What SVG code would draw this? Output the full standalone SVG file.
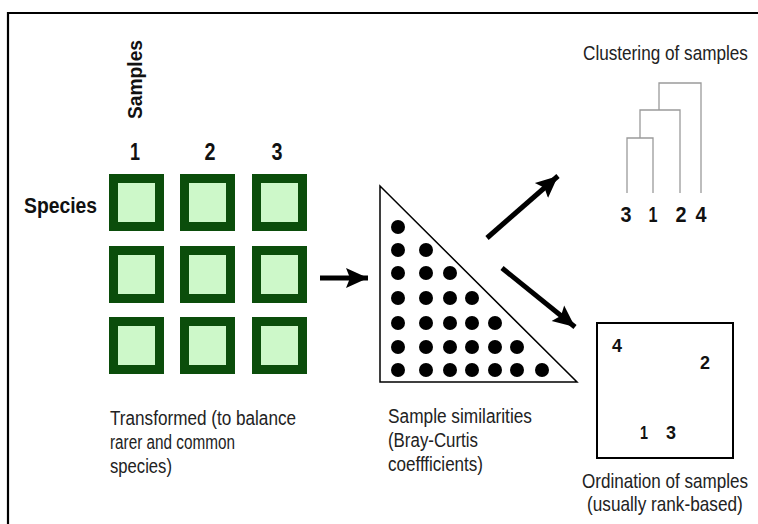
<svg xmlns="http://www.w3.org/2000/svg" width="758" height="524" viewBox="0 0 758 524">
<defs>
<style>
.b{font-family:"Liberation Sans",Arial,sans-serif;font-weight:bold;fill:#111;}
.r{font-family:"Liberation Sans",Arial,sans-serif;fill:#222;font-size:20px;}
.sq{fill:#cdf8c9;stroke:#0b4d0b;stroke-width:9;}
.den{fill:none;stroke:#9a9a9a;stroke-width:1.3;}
.arr{stroke:#000;stroke-width:5;fill:none;}
</style>
<marker id="ah" markerUnits="userSpaceOnUse" markerWidth="24" markerHeight="24" viewBox="0 0 24 24" refX="22" refY="12" orient="auto">
<path d="M0,2 L22,12 L0,22 L4,12 Z" fill="#000"/>
</marker>
</defs>
<rect width="758" height="524" fill="#fff"/>
<path d="M8,524 V13 H758" fill="none" stroke="#000" stroke-width="2.2"/>

<g id="samples-label">
<text class="b" font-size="20" transform="translate(142,119) rotate(-90)" textLength="79" lengthAdjust="spacingAndGlyphs">Samples</text>
</g>
<g id="sample-numbers">
<text class="b" font-size="23" x="135" y="160" text-anchor="middle" textLength="10" lengthAdjust="spacingAndGlyphs">1</text>
<text class="b" font-size="23" x="210" y="160" text-anchor="middle" textLength="11" lengthAdjust="spacingAndGlyphs">2</text>
<text class="b" font-size="23" x="277" y="160" text-anchor="middle" textLength="11" lengthAdjust="spacingAndGlyphs">3</text>
</g>
<g id="species-label">
<text class="b" font-size="22" x="24" y="213" textLength="73" lengthAdjust="spacingAndGlyphs">Species</text>
</g>

<g id="matrix">
<rect class="sq" x="113.5" y="178.5" width="46" height="48"/>
<rect class="sq" x="184.5" y="178.5" width="46" height="48"/>
<rect class="sq" x="256.5" y="178.5" width="46" height="48"/>
<rect class="sq" x="113.5" y="250.5" width="46" height="48"/>
<rect class="sq" x="184.5" y="250.5" width="46" height="48"/>
<rect class="sq" x="256.5" y="250.5" width="46" height="48"/>
<rect class="sq" x="113.5" y="321.5" width="46" height="48"/>
<rect class="sq" x="184.5" y="321.5" width="46" height="48"/>
<rect class="sq" x="256.5" y="321.5" width="46" height="48"/>
</g>
<g id="matrix-caption">
<text class="r" x="110" y="425" textLength="186" lengthAdjust="spacingAndGlyphs">Transformed (to balance</text>
<text class="r" x="110" y="449" textLength="125" lengthAdjust="spacingAndGlyphs">rarer and common</text>
<text class="r" x="110" y="473" textLength="62" lengthAdjust="spacingAndGlyphs">species)</text>
</g>

<g id="similarity-triangle">
<path d="M380,186 L380,382 L577,382 Z" fill="#fff" stroke="#000" stroke-width="1.5"/>
<g fill="#000">
<circle cx="398" cy="227" r="7"/>
<circle cx="398" cy="250" r="7"/><circle cx="426" cy="250" r="7"/>
<circle cx="398" cy="273" r="7"/><circle cx="426" cy="273" r="7"/><circle cx="450" cy="273" r="7"/>
<circle cx="398" cy="298" r="7"/><circle cx="426" cy="298" r="7"/><circle cx="450" cy="298" r="7"/><circle cx="472" cy="298" r="7"/>
<circle cx="398" cy="323" r="7"/><circle cx="426" cy="323" r="7"/><circle cx="450" cy="323" r="7"/><circle cx="472" cy="323" r="7"/><circle cx="495" cy="323" r="7"/>
<circle cx="398" cy="347" r="7"/><circle cx="426" cy="347" r="7"/><circle cx="450" cy="347" r="7"/><circle cx="472" cy="347" r="7"/><circle cx="495" cy="347" r="7"/><circle cx="517" cy="347" r="7"/>
<circle cx="398" cy="370" r="7"/><circle cx="426" cy="370" r="7"/><circle cx="450" cy="370" r="7"/><circle cx="472" cy="370" r="7"/><circle cx="495" cy="370" r="7"/><circle cx="517" cy="370" r="7"/><circle cx="542" cy="370" r="7"/>
</g>
</g>
<g id="triangle-caption">
<text class="r" x="388" y="423" textLength="144" lengthAdjust="spacingAndGlyphs">Sample similarities</text>
<text class="r" x="388" y="447" textLength="90" lengthAdjust="spacingAndGlyphs">(Bray-Curtis</text>
<text class="r" x="388" y="471" textLength="95" lengthAdjust="spacingAndGlyphs">coeffficients)</text>
</g>

<g id="dendrogram">
<text class="r" transform="translate(583,60) scale(0.858,1)">Clustering of samples</text>
<path class="den" d="M627,193 V138 H653 V193 M640,138 V110 H680 V193"/>
<path class="den" d="M659,110 V83 H701 V193" stroke="#666"/>
<text class="b" font-size="22" x="626" y="222" text-anchor="middle" textLength="11" lengthAdjust="spacingAndGlyphs">3</text>
<text class="b" font-size="22" x="653" y="222" text-anchor="middle" textLength="9" lengthAdjust="spacingAndGlyphs">1</text>
<text class="b" font-size="22" x="681" y="222" text-anchor="middle" textLength="11" lengthAdjust="spacingAndGlyphs">2</text>
<text class="b" font-size="22" x="701" y="222" text-anchor="middle" textLength="11" lengthAdjust="spacingAndGlyphs">4</text>
</g>

<g id="ordination">
<rect x="597" y="323" width="136" height="135" fill="#fff" stroke="#000" stroke-width="2"/>
<text class="b" font-size="19" x="617" y="352" text-anchor="middle" textLength="10" lengthAdjust="spacingAndGlyphs">4</text>
<text class="b" font-size="19" x="705" y="369" text-anchor="middle" textLength="10" lengthAdjust="spacingAndGlyphs">2</text>
<text class="b" font-size="19" x="644" y="439" text-anchor="middle" textLength="8" lengthAdjust="spacingAndGlyphs">1</text>
<text class="b" font-size="19" x="671" y="439" text-anchor="middle" textLength="10" lengthAdjust="spacingAndGlyphs">3</text>
<text class="r" transform="translate(582,488) scale(0.854,1)">Ordination of samples</text>
<text class="r" transform="translate(587,511) scale(0.86,1)">(usually rank-based)</text>
</g>

<g id="connectors">
<line class="arr" x1="320" y1="278" x2="368" y2="278" marker-end="url(#ah)"/>
<line class="arr" x1="487" y1="238" x2="558" y2="176" marker-end="url(#ah)"/>
<line class="arr" x1="502" y1="268" x2="575" y2="327" marker-end="url(#ah)"/>
</g>
</svg>
